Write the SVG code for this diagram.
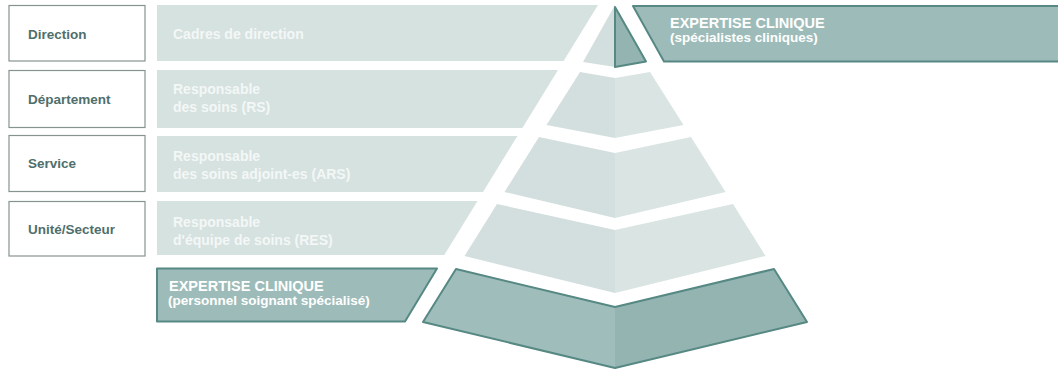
<svg xmlns="http://www.w3.org/2000/svg" width="1058" height="371" viewBox="0 0 1058 371">
<defs>
<style>
.box{fill:#ffffff;stroke:#86948f;stroke-width:1.2}
.lbl{font-family:"Liberation Sans",Arial,sans-serif;font-weight:bold;font-size:13.5px;fill:#4f6f6c}
.band{fill:#d6e2e0}
.bt{font-family:"Liberation Sans",Arial,sans-serif;font-weight:bold;font-size:14px;fill:#f3f7f6}
.dark{fill:#9dbcb9;stroke:#568884;stroke-width:2;stroke-linejoin:round}
.et1{font-family:"Liberation Sans",Arial,sans-serif;font-weight:bold;font-size:14.5px;fill:#ffffff}
.et2{font-family:"Liberation Sans",Arial,sans-serif;font-weight:bold;font-size:13.5px;fill:#ffffff}
.pl{fill:#d3dfde}
.pr{fill:#d9e4e3}
.dl{fill:#9fbebb}
.dr{fill:#93b4b1}
.edge{fill:none;stroke:#568884;stroke-width:2;stroke-linejoin:round}
</style>
</defs>
<rect width="1058" height="371" fill="#ffffff"/>

<g id="level-direction">
<rect class="box" x="9" y="5.5" width="136" height="55.5"/>
<text class="lbl" x="28" y="39">Direction</text>
</g>
<g id="level-departement">
<rect class="box" x="9" y="70.5" width="136" height="57"/>
<text class="lbl" x="28" y="104">Département</text>
</g>
<g id="level-service">
<rect class="box" x="9" y="135.5" width="136" height="56"/>
<text class="lbl" x="28" y="168">Service</text>
</g>
<g id="level-unite">
<rect class="box" x="9" y="201.5" width="136" height="54.5"/>
<text class="lbl" x="28" y="234">Unité/Secteur</text>
</g>

<g id="band-cadres">
<path class="band" d="M157,5 L598,5 L563.6,61 L157,61 Z"/>
<text class="bt" x="173" y="39">Cadres de direction</text>
</g>
<g id="band-rs">
<path class="band" d="M157,70 L558,70 L522.4,128 L157,128 Z"/>
<text class="bt" x="173" y="94">Responsable</text>
<text class="bt" x="173" y="112">des soins (RS)</text>
</g>
<g id="band-ars">
<path class="band" d="M157,136 L517.4,136 L483,192 L157,192 Z"/>
<text class="bt" x="173" y="161">Responsable</text>
<text class="bt" x="173" y="179">des soins adjoint-es (ARS)</text>
</g>
<g id="band-res">
<path class="band" d="M157,201 L477.5,201 L444.3,255 L157,255 Z"/>
<text class="bt" x="173" y="227">Responsable</text>
<text class="bt" x="173" y="245">d'équipe de soins (RES)</text>
</g>
<g id="band-expertise-soignant">
<path class="dark" d="M157,268.5 L437,268.5 L405,321.5 L157,321.5 Z"/>
<text class="et1" x="169" y="291">EXPERTISE CLINIQUE</text>
<text class="et2" x="168" y="305">(personnel soignant spécialisé)</text>
</g>

<g id="banner-expertise-specialistes">
<path class="dark" d="M633,6 L1062,6 L1062,61.5 L664,61.5 Z"/>
<text class="et1" x="670" y="28">EXPERTISE CLINIQUE</text>
<text class="et2" x="670" y="42">(spécialistes cliniques)</text>
</g>

<g id="pyramid">
<g id="pyr-top">
<path class="pl" d="M615,5 L583,62 L615,67 Z"/>
<path class="dr" d="M615,7 L646,61.5 L615,67 Z"/>
<path class="edge" d="M615,7 L646,61.5 L615,67 Z"/>
</g>
<g id="pyr-2">
<path class="pl" d="M580,72 L615,78 L615,138 L546.5,125 Z"/>
<path class="pr" d="M615,78 L650,72 L683.5,125 L615,138 Z"/>
</g>
<g id="pyr-3">
<path class="pl" d="M539,137 L615,153 L615,218 L504.5,192 Z"/>
<path class="pr" d="M615,153 L691,137 L725.5,192 L615,218 Z"/>
</g>
<g id="pyr-4">
<path class="pl" d="M497,204 L615,230 L615,293 L464.5,256 Z"/>
<path class="pr" d="M615,230 L733,204 L765.5,256 L615,293 Z"/>
</g>
<g id="pyr-5">
<path class="dl" d="M456,269 L615,307 L615,368 L423,322 Z"/>
<path class="dr" d="M615,307 L774,269 L807,322 L615,368 Z"/>
<path class="edge" d="M456,269 L615,307 L774,269 L807,322 L615,368 L423,322 Z"/>
</g>
</g>
</svg>
